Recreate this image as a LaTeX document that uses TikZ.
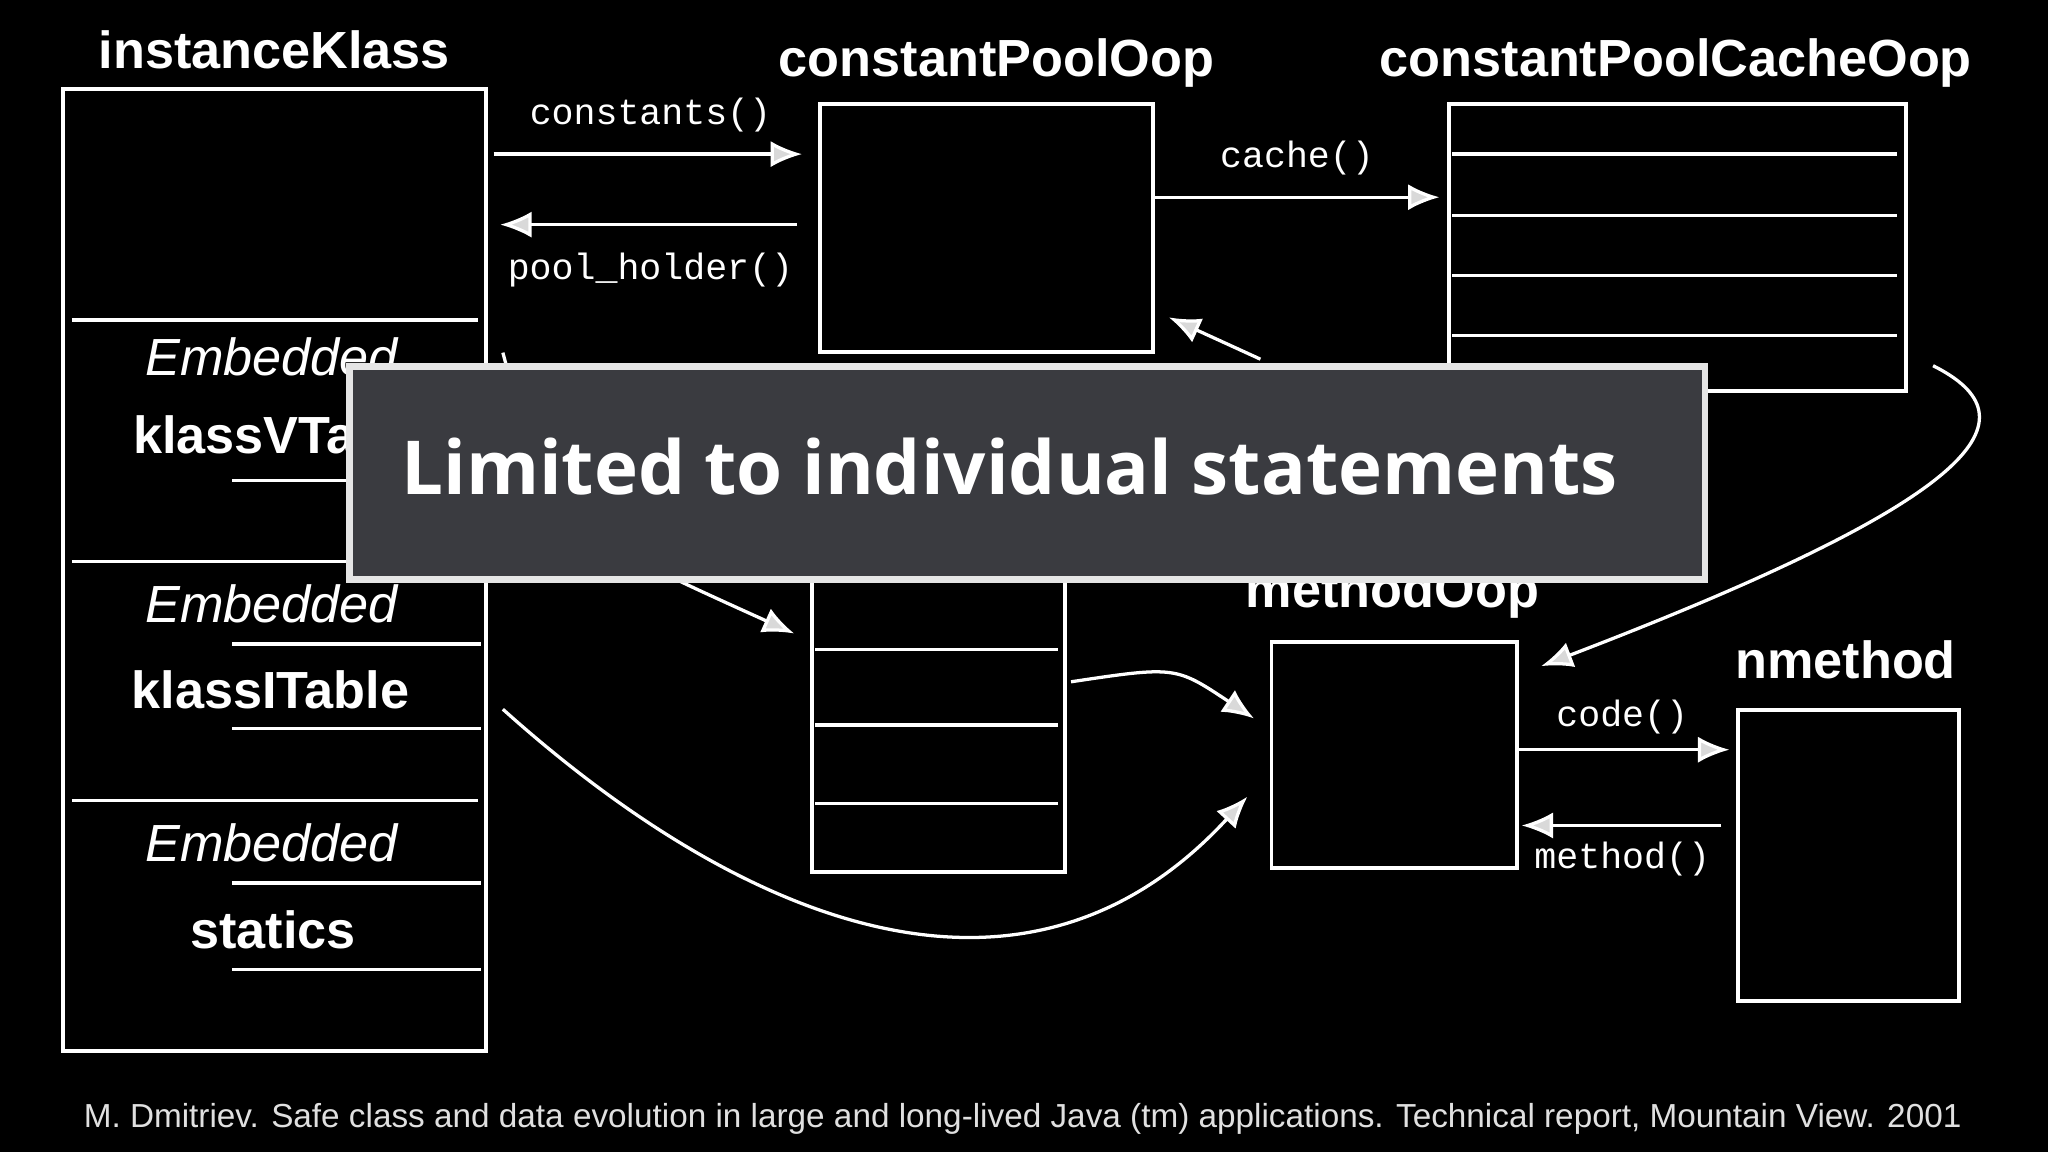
\documentclass[tikz,border=0pt]{standalone}
\usepackage{fontspec}
\setmainfont{Liberation Sans}
\newfontfamily\monof{Liberation Mono}
\newfontfamily\opensans{Open Sans}
\usetikzlibrary{arrows.meta}
\begin{document}
\begin{tikzpicture}[x=1pt,y=-1pt,
  chalk/.style={draw=white,line width=3pt},
  thin/.style={draw=white,line width=2.5pt},
  arr/.style={white,line width=2.5pt,-{Latex[length=24pt,width=20pt,open,fill=white!85!black]}},
  title/.style={text=white,font=\bfseries\fontsize{40}{44}\selectfont},
  lab/.style={text=white,font=\monof\fontsize{28}{30}\selectfont},
  emb/.style={text=white,font=\itshape\fontsize{40}{44}\selectfont},
]
\fill[black] (0,0) rectangle (1568,882);
\useasboundingbox (0,0) rectangle (1568,882);
% instanceKlass
\node[title] (tIK) at (210,38) {instanceKlass};
\draw[chalk] (48,68) rectangle (372,805);
\foreach \y in {245,430,613} \draw[thin] (55,\y) -- (366,\y);
\foreach \y in {368,493,558,676,742} \draw[thin] (178,\y) -- (368,\y);
\node[emb] (e1) at (208,273) {Embedded};
\node[title] (kv) at (216,333) {klassVTable};
\node[emb] (e2) at (208,462) {Embedded};
\node[title] (ki) at (207,528) {klassITable};
\node[emb] (e3) at (208,645) {Embedded};
\node[title] (st) at (209,712) {statics};
% constantPoolOop
\node[title] (tCP) at (763,48) {constantPoolOop};
\node[chalk,minimum width=255pt,minimum height=190pt,anchor=north west] (cp) at (626,78) {};
% cache
\node[title] (tCC) at (1283,48) {constantPoolCacheOop};
\node[chalk,minimum width=350pt,minimum height=220pt,anchor=north west] (cc) at (1108,78) {};
\foreach \y in {118,165,211,257} \draw[thin] (1112,\y) -- (1452,\y);
% methods array
\node[chalk,minimum width=194pt,minimum height=260pt,anchor=north west] (ma) at (620,406) {};
\foreach \y in {497,555,615} \draw[thin] (624,\y) -- (810,\y);
% methodOop
\node[title] (tMO) at (1066,455) {methodOop};
\node[chalk,minimum width=188pt,minimum height=173pt,anchor=north west] (mo) at (972,490) {};
% nmethod
\node[title] (tNM) at (1413,505) {nmethod};
\node[chalk,minimum width=169pt,minimum height=223pt,anchor=north west] (nm) at (1329,542) {};
% arrows
\coordinate (a1) at (378,118); \coordinate (a2) at (614,118);
\draw[arr] (a1) -- (a2);
\node[lab] (l1) at (498,88) {constants()};
\coordinate (b1) at (610,172); \coordinate (b2) at (383,172);
\draw[arr] (b1) -- (b2);
\node[lab] (l2) at (498,207) {pool\_holder()};
\coordinate (c1) at (884,151); \coordinate (c2) at (1102,151);
\draw[arr] (c1) -- (c2);
\node[lab] (l3) at (993,121) {cache()};
\coordinate (d1) at (965,275); \coordinate (d2) at (895,243);
\draw[arr] (d1) -- (d2);
\coordinate (f1) at (385,270); \coordinate (f2) at (608,485);
\draw[arr] (f1) .. controls (420,400) .. (f2);
\coordinate (g1) at (820,522); \coordinate (g2) at (960,550);
\draw[arr] (g1) .. controls (900,510) .. (g2);
\coordinate (h1) at (385,543); \coordinate (h2) at (955,610);
\draw[arr] (h1) .. controls (560,700) and (780,800) .. (h2);
\coordinate (i1) at (1480,280); \coordinate (i2) at (1180,510);
\draw[arr] (i1) .. controls (1560,320) and (1520,380) .. (i2);
\coordinate (j1) at (1162,574); \coordinate (j2) at (1324,574);
\draw[arr] (j1) -- (j2);
\node[lab] (l4) at (1242,549) {code()};
\coordinate (k1) at (1318,632); \coordinate (k2) at (1165,632);
\draw[arr] (k1) -- (k2);
\node[lab] (l5) at (1242,658) {method()};
% overlay
\node[draw=white!90!black,line width=5pt,fill={rgb,255:red,58;green,59;blue,64},minimum width=1038pt,minimum height=163pt,anchor=north west] (ov) at (265,278) {};
\node[text=white,font=\opensans\bfseries\fontsize{57}{60}\selectfont] (ot) at (773,357) {Limited to individual statements};
\node[text=white!88!black,font=\fontsize{25.5}{28}\selectfont] (ft) at (783,857) {M. Dmitriev. Safe class and data evolution in large and long-lived Java (\textsc{tm}) applications. Technical report, Mountain View. 2001};
\end{tikzpicture}
\end{document}
